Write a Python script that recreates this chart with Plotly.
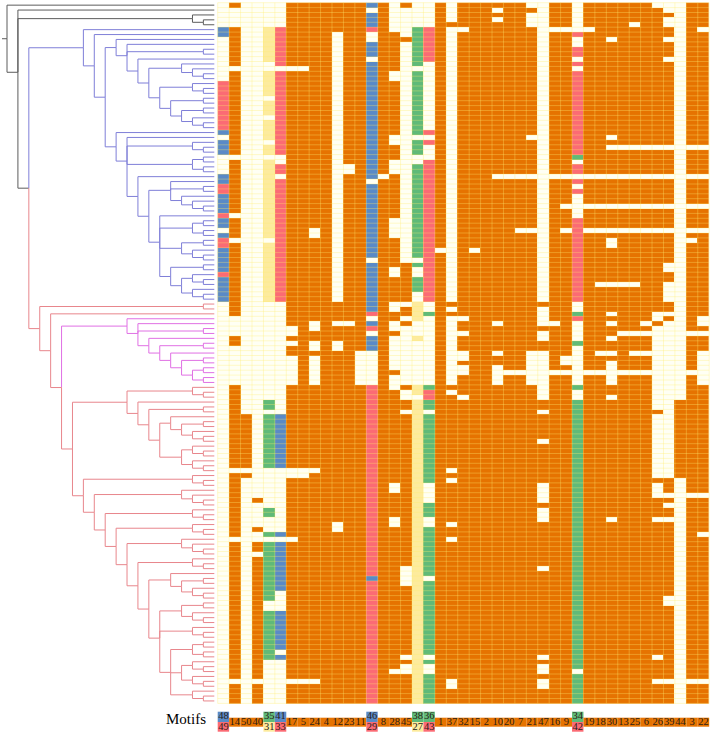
import numpy as np
import plotly.graph_objects as go

# motif labels, one per column, left to right (lower = second label under paired cells)
motif_upper = [48, 14, 50, 40, 35, 41, 17, 5, 24, 4, 12, 23, 11, 46, 8, 28, 45, 38, 36, 1, 37, 32,
               15, 2, 10, 20, 7, 21, 47, 16, 9, 34, 19, 18, 30, 13, 25, 6, 26, 39, 44, 3, 22]
motif_lower = {48: 49, 35: 31, 41: 33, 46: 29, 38: 27, 36: 43, 34: 42}

# presence of each motif down the rows: run lengths, e=absent o=orange b=blue r=red g=green y=yellow
col_48 = "e5 b2 e9 r10 b1 e1 b3 e4 b2 r2 b4 r1 b2 e1 b1 r2 b5 r1 b5 e82"
col_14 = "o1 e4 o8 e1 o17 e1 o11 e1 o4 e1 o15 e4 o2 e8 o17 e1 o13 e1 o28 e1 o4"
col_50 = "e84 o11 e1 o1 e46"
col_40 = "e101 o1 e5 o1 e2 o2 e1 o25 e1 o4"
col_35 = "e5 y7 e2 y5 e1 y3 e1 y4 e1 y2 e1 y16 e1 y12 e20 g2 e1 g11 e8 g2 e3 g1 e1 g12 e2 g10 e9"
col_41 = "e5 r8 e1 r17 e2 r2 e1 r25 e23 b11 e13 b1 e1 b10 e4 b8 e1 b1 e9"
col_17 = "o13 e1 o52 e2 o1 e1 o2 e6 o17 e2 o12 e1 o28 e1 o4"
col_5 = "o13 e1 o81 e2 o41 e1 o4"
col_24 = "o46 e2 o17 e2 o2 e2 o1 e6 o17 e1 o42 e1 o4"
col_4 = "o143"
col_12 = "o6 e55 o4 e1 o3 e2 o35 e2 o35"
col_23 = "o33 e2 o30 e1 o77"
col_11 = "o71 e7 o65"
col_46 = "b1 e1 b3 r1 e2 b3 e1 b24 e1 b15 e1 b10 r1 e1 b1 r1 e1 b3 e7 r39 b1 r25"
col_8 = "o35 e1 o107"
col_28 = "e6 o8 e2 o11 e2 o3 e3 o9 e4 o6 e2 o5 e2 o2 e2 o1 e7 o1 e3 o19 e2 o5 e2 o29 e1 o6"
col_45 = "o1 e6 o1 e45 o8 e1 o2 e1 o1 e12 o1 e2 o2 e1 o31 e4 o14 e1 o1 e2 o6"
col_38 = "e5 g8 e1 g13 e1 g3 e2 g19 e1 g1 e2 g3 e2 y4 e3 y1 e9 y2 e1 y62"
col_36 = "e5 r7 e14 r1 e1 r1 e3 r29 e2 g1 e14 g1 r2 g2 e1 g14 e4 g3 e2 g10 e1 g15 e1 g1 e2 g6"
col_1 = "o50 e1 o92"
col_37 = "e4 o1 e56 o1 e1 o1 e14 o1 e1 o15 e1 o1 e1 o8 e1 o2 e1 o28 e2 o3"
col_32 = "o5 e1 o58 e1 o2 e1 o3 e2 o1 e2 o4 e1 o62"
col_15 = "o50 e1 o92"
col_2 = "o143"
col_10 = "o1 e1 o1 e1 o31 e1 o29 e1 o5 e1 o2 e4 o65"
col_20 = "o35 e1 o39 e1 o67"
col_7 = "o35 e1 o10 e1 o28 e1 o67"
col_21 = "e1 o1 e3 o22 e1 o7 e1 o10 e1 o24 e7 o65"
col_47 = "e61 o1 e4 o1 e2 o2 e10 o2 e1 o5 e1 o8 e4 o1 e3 o9 e1 o17 e1 o1 e2 o1 e2 o3"
col_16 = "o5 e1 o29 e1 o29 e1 o9 e1 o67"
col_9 = "o5 e1 o29 e1 o5 e1 o4 e1 o25 e2 o1 e1 o67"
col_34 = "e6 r1 e2 r2 e1 r1 e1 r17 g1 e1 r2 e1 r1 e1 r1 e5 r17 e2 g1 r1 e4 g1 e8 g1 e2 g55 e1 g6"
col_19 = "o5 e1 o29 e1 o5 e1 o4 e1 o28 e1 o67"
col_18 = "o35 e1 o5 e1 o4 e1 o10 e1 o13 e1 o3 e1 o67"
col_30 = "o7 e1 o19 e1 o1 e1 o5 e1 o5 e1 o4 e1 o1 e2 o7 e1 o5 e1 o1 e1 o2 e1 o2 e1 o1 e5 o2 e1 o24 e1 o37"
col_13 = "o29 e1 o5 e1 o5 e1 o4 e1 o10 e1 o9 e1 o7 e1 o67"
col_25 = "o4 e1 o24 e1 o5 e1 o5 e1 o4 e1 o10 e1 o9 e1 o3 e1 o3 e1 o67"
col_6 = "o29 e1 o5 e1 o5 e1 o4 e1 o18 e1 o1 e1 o3 e1 o3 e1 o67"
col_26 = "e1 o28 e1 o5 e1 o5 e1 o4 e1 o16 e2 o1 e17 o1 e13 o1 e3 o4 e1 o27 e1 o4 e1 o4"
col_39 = "e2 o1 e2 o2 e1 o3 e1 o17 e1 o5 e1 o5 e1 o4 e1 o6 e2 o2 e4 o2 e1 o1 e32 o3 e1 o1 e1 o2 e1 o15 e2 o15 e1 o4"
col_44 = "e81 o16 e46"
col_3 = "o29 e1 o5 e1 o5 e1 o4 e1 o1 e1 o18 e1 o7 e1 o24 e1 o37 e1 o4"
col_22 = "o5 e1 o23 e1 o5 e1 o5 e1 o4 e1 o17 e2 o1 e1 o3 e7 o22 e1 o7 e1 o29 e1 o4"

columns = [col_48, col_14, col_50, col_40, col_35, col_41, col_17, col_5, col_24, col_4, col_12,
           col_23, col_11, col_46, col_8, col_28, col_45, col_38, col_36, col_1, col_37, col_32,
           col_15, col_2, col_10, col_20, col_7, col_21, col_47, col_16, col_9, col_34, col_19,
           col_18, col_30, col_13, col_25, col_6, col_26, col_39, col_44, col_3, col_22]

# tree topology, x = one leaf (row), top to bottom
tree_blue_upper = "(x,(x,(x,x),(x,((x,(x,(x,x))),((x,(x,x)),((x,x),((x,x),(x,(x,x)))))))))"
tree_blue_lower = ("(x,(x,(x,(x,x)),((x,x),(x,x)),(x,((x,(x,x),(x,(x,(x,x)))),"
                   "(x,((x,x),(x,x)),((x,x),(x,(x,x))),((x,x),((x,(x,x)),(x,(x,x)))))))))")
tree_magenta = "(x,(x,(x,x),(x,((x,x),(x,((x,x),((x,x),(x,x))))))))"
tree_red_upper = "((x,(x,x)),(x,((x,x),((x,((x,x),(x,(x,x)))),((x,(x,x)),(x,(x,x)))))))"
tree_red_lower = ("((x,(x,x)),((x,(x,(x,x))),((x,(x,x)),((x,(x,x)),((x,(x,(x,x))),((x,(x,x)),"
                  "((x,((x,x),(x,(x,x)))),(((x,x),(x,(x,x))),(x,(x,x)),"
                  "(((x,x),(x,x)),((x,(x,x)),(x,(x,x))),(x,(x,x)))))))))))")
newick = ("(x,(x,(x,(x,x)),((x,(x,(" + tree_blue_upper + "," + tree_blue_lower + "))),"
          "((x,x),(x,(" + tree_magenta + ",(" + tree_red_upper + "," + tree_red_lower + ")))))))")

# last row of each coloured group of leaves
clade_names = ["black", "blue", "red", "magenta", "red"]
clade_ends = [5, 61, 64, 78, 143]
clade_colors = {"black": "#5c5c5c", "blue": "#7f7fd8", "magenta": "#e070e4", "red": "#e8868c"}

cell_colors = ["#fffff4", "#e67300", "#5a8ac6", "#fb6b74", "#60ba78", "#fdeb9d"]
state_codes = {"e": 0, "o": 1, "b": 2, "r": 3, "g": 4, "y": 5}

# pixel geometry of the page
CELL_W, CELL_H = 11.43, 4.9
GRID_X, GRID_Y = 217.7, 2.7
TREE_RIGHT, TREE_STEP = 214.3, 10.91


def expand(runs):
    out = []
    for run in runs.split():
        out += [state_codes[run[0]]] * int(run[1:])
    return out


def parse(text):
    # nested lists from the bracket string, leaves are None
    stack = [[]]
    for ch in text:
        if ch == "(":
            stack.append([])
        elif ch == ")":
            node = stack.pop()
            stack[-1].append(node)
        elif ch == "x":
            stack[-1].append(None)
    return stack[0][0]


z = np.array([expand(c) for c in columns]).T
n_rows, n_cols = z.shape

leaf_clade = []
start = 0
for name, end in zip(clade_names, clade_ends):
    leaf_clade += [name] * (end - start)
    start = end

segments = {name: ([], []) for name in clade_colors}
row_counter = [0]


def layout_node(node):
    # returns x, y, height, clade of a node; edges to children are stored with the child's colour
    if node is None:
        row = row_counter[0]
        row_counter[0] += 1
        return TREE_RIGHT, GRID_Y + CELL_H * (row + 0.5), 0, leaf_clade[row]
    kids = [layout_node(k) for k in node]
    height = 1 + max(k[2] for k in kids)
    x = TREE_RIGHT - height * TREE_STEP
    y = float(np.mean([k[1] for k in kids]))
    names = {k[3] for k in kids}
    if "black" in names or ("blue" in names and "red" in names):
        clade = "black"
    elif names == {"blue"}:
        clade = "blue"
    elif names == {"magenta"}:
        clade = "magenta"
    else:
        clade = "red"
    for kx, ky, _, kname in kids:
        xs, ys = segments[kname]
        xs += [x, x, kx, None]
        ys += [y, ky, ky, None]
    return x, y, height, clade


root_x, root_y, _, _ = layout_node(parse(newick))
assert row_counter[0] == n_rows, row_counter[0]
assert max(v for v in segments["black"][1] if v is not None) < 200
segments["black"][0].extend([2, root_x, None])
segments["black"][1].extend([root_y, root_y, None])

colorscale = []
for i, c in enumerate(cell_colors):
    colorscale += [[i / len(cell_colors), c], [(i + 1) / len(cell_colors), c]]

fig = go.Figure()

fig.add_trace(go.Heatmap(
    z=z, x0=GRID_X + CELL_W / 2, dx=CELL_W, y0=GRID_Y + CELL_H / 2, dy=CELL_H,
    zmin=0, zmax=len(cell_colors), colorscale=colorscale, showscale=False, hoverinfo="skip",
))

# pale yellow cell borders
grid_x, grid_y = [], []
grid_bottom = GRID_Y + CELL_H * n_rows
grid_right = GRID_X + CELL_W * n_cols
for i in range(n_cols + 1):
    grid_x += [GRID_X + CELL_W * i, GRID_X + CELL_W * i, None]
    grid_y += [GRID_Y, grid_bottom, None]
for j in range(n_rows + 1):
    grid_x += [GRID_X, grid_right, None]
    grid_y += [GRID_Y + CELL_H * j, GRID_Y + CELL_H * j, None]
fig.add_trace(go.Scatter(x=grid_x, y=grid_y, mode="lines", hoverinfo="skip",
                         line=dict(color="rgba(255,236,110,0.42)", width=0.8)))

for name, (xs, ys) in segments.items():
    fig.add_trace(go.Scatter(x=xs, y=ys, mode="lines", hoverinfo="skip",
                             line=dict(color=clade_colors[name], width=1)))

# label strip under the matrix
centers = [GRID_X + CELL_W * (i + 0.5) for i in range(n_cols)]
bar_x, bar_base, bar_h, bar_col, text_x, text_y, text_s = [], [], [], [], [], [], []
for i, label in enumerate(motif_upper):
    if label in motif_lower:
        up = int(z[:, i][(z[:, i] == 2) | (z[:, i] == 4)][0])
        low = int(z[:, i][(z[:, i] == 3) | (z[:, i] == 5)][0])
        bar_x += [centers[i], centers[i]]
        bar_base += [711.7, 722]
        bar_h += [10.3, 9.7]
        bar_col += [cell_colors[up], cell_colors[low]]
        text_x += [centers[i], centers[i]]
        text_y += [716.8, 727]
        text_s += [str(label), str(motif_lower[label])]
    else:
        bar_x.append(centers[i])
        bar_base.append(717.7)
        bar_h.append(9)
        bar_col.append(cell_colors[1])
        text_x.append(centers[i])
        text_y.append(722)
        text_s.append(str(label))

fig.add_trace(go.Bar(x=bar_x, y=bar_h, base=bar_base, width=CELL_W, marker=dict(color=bar_col, line_width=0),
                     hoverinfo="skip"))
fig.add_trace(go.Scatter(x=text_x, y=text_y, text=text_s, mode="text", hoverinfo="skip",
                         textfont=dict(family="Liberation Serif", size=10.5, color="#2a2018")))
fig.add_trace(go.Scatter(x=[186], y=[720], text=["Motifs"], mode="text", hoverinfo="skip",
                         textfont=dict(family="Liberation Serif", size=15, color="black")))

fig.update_xaxes(range=[0, 711], visible=False, fixedrange=True)
fig.update_yaxes(range=[734, 0], visible=False, fixedrange=True)
fig.update_layout(width=711, height=734, margin=dict(l=0, r=0, t=0, b=0), showlegend=False,
                  paper_bgcolor="white", plot_bgcolor="white")

fig.write_html("out.html", post_script="document.body.style.margin='0';document.body.style.overflow='hidden';",
               config={"displayModeBar": False})
